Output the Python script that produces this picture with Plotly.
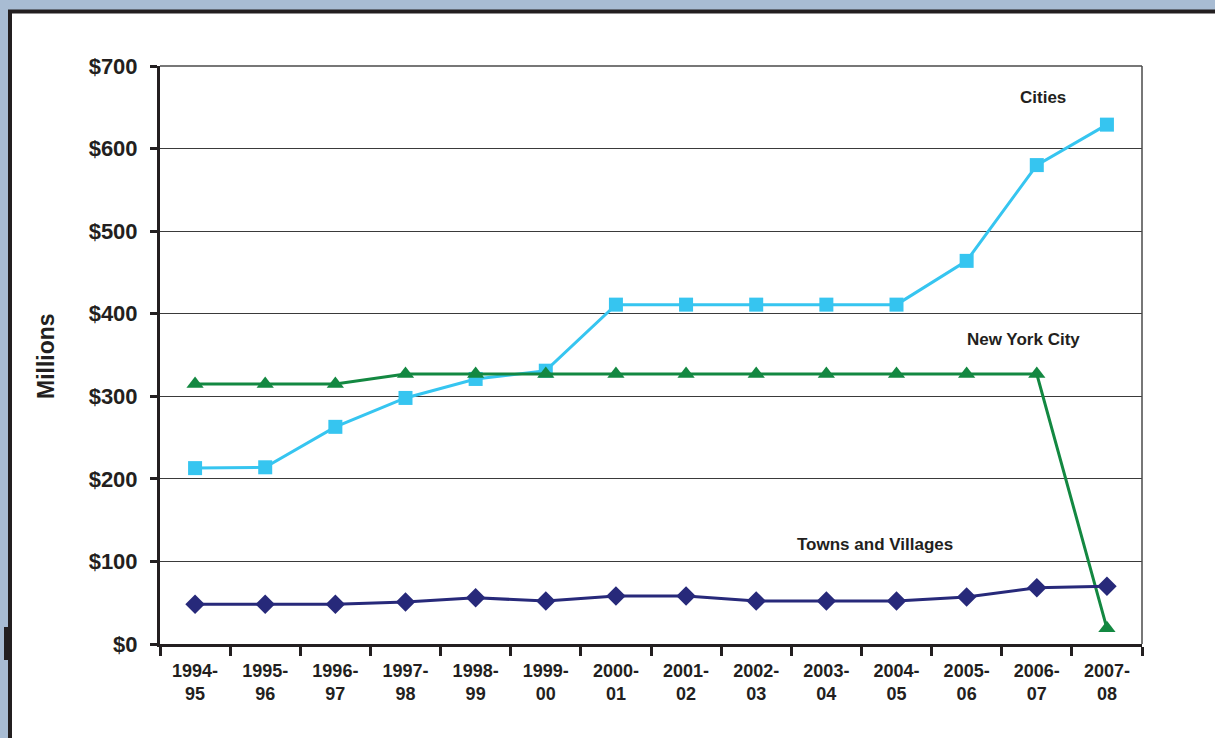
import plotly.graph_objects as go

years = ["1994-<br>95", "1995-<br>96", "1996-<br>97", "1997-<br>98", "1998-<br>99",
         "1999-<br>00", "2000-<br>01", "2001-<br>02", "2002-<br>03", "2003-<br>04",
         "2004-<br>05", "2005-<br>06", "2006-<br>07", "2007-<br>08"]
cities = [213, 214, 263, 298, 321, 331, 411, 411, 411, 411, 411, 464, 580, 629]
nyc = [315, 315, 315, 327, 327, 327, 327, 327, 327, 327, 327, 327, 327, 19]
towns = [48, 48, 48, 51, 56, 52, 58, 58, 52, 52, 52, 57, 68, 70]
y_ticks = [0, 100, 200, 300, 400, 500, 600, 700]

W, H = 1215, 738
L, R, T, B = 160, 73, 66, 94
PW, PH = W - L - R, H - T - B


def px(x):
    return (x - L) / PW


def py(y):
    return (H - B - y) / PH


FONT = "Liberation Sans, Arial, sans-serif"
TXT = "#231f20"

fig = go.Figure()
fig.add_trace(go.Scatter(x=years, y=cities, mode="lines+markers", name="Cities",
                         line=dict(color="#36c5f0", width=3),
                         marker=dict(symbol="square", size=14, color="#36c5f0")))
fig.add_trace(go.Scatter(x=years, y=nyc, mode="lines+markers", name="New York City",
                         line=dict(color="#138841", width=3),
                         marker=dict(symbol="triangle-up", size=15, color="#138841")))
fig.add_trace(go.Scatter(x=years, y=towns, mode="lines+markers", name="Towns and Villages",
                         line=dict(color="#27297a", width=3),
                         marker=dict(symbol="diamond", size=15, color="#27297a")))

shapes = [
    # outer frame
    dict(type="rect", xref="paper", yref="paper", x0=px(10), x1=px(1250), y0=py(11.5), y1=py(800),
         line=dict(color="#231f20", width=4), fillcolor="white", layer="below"),
    dict(type="rect", xref="paper", yref="paper", x0=px(4), x1=px(9), y0=py(627), y1=py(660),
         line=dict(width=0), fillcolor="#231f20", layer="below"),
    # top and right plot border
    dict(type="line", xref="paper", yref="paper", x0=0, x1=1, y0=1, y1=1,
         line=dict(color="#4a4a4a", width=1.5)),
    dict(type="line", xref="paper", yref="paper", x0=1, x1=1, y0=0, y1=1,
         line=dict(color="#4a4a4a", width=1.5)),
]


def label(text, x, y, size, angle=0):
    return dict(text=f"<b>{text}</b>", x=px(x), y=py(y), xref="paper", yref="paper",
                xanchor="center", yanchor="middle", showarrow=False, textangle=angle,
                font=dict(size=size, color=TXT, family=FONT))


annotations = [
    label("Cities", 1043, 97, 17),
    label("New York City", 1023, 339, 17),
    label("Towns and Villages", 875, 544, 17),
    label("Millions", 46, 356, 23, -90),
]

fig.update_layout(
    width=W, height=H,
    margin=dict(l=L, r=R, t=T, b=B),
    paper_bgcolor="#a8bcd3",
    plot_bgcolor="white",
    showlegend=False,
    shapes=shapes,
    annotations=annotations,
    font=dict(family=FONT, color=TXT),
)
fig.update_xaxes(
    type="category", tickson="boundaries", ticks="outside", ticklen=9, tickwidth=3,
    tickcolor="#231f20", showline=True, linecolor="#231f20", linewidth=3,
    showgrid=False, tickfont=dict(size=18, color=TXT, family=FONT),
    tickprefix="<b>", ticksuffix="</b>", range=[-0.5, 13.5], ticklabelstandoff=8,
)
fig.update_yaxes(
    range=[0, 700], tickvals=y_ticks, ticktext=[f"<b>${v}</b>" for v in y_ticks],
    ticks="outside", ticklen=7, tickwidth=3, tickcolor="#231f20",
    showline=True, linecolor="#231f20", linewidth=3,
    showgrid=True, gridcolor="#3a3a3a", gridwidth=1, zeroline=False,
    tickfont=dict(size=22, color=TXT, family=FONT), ticklabelstandoff=8,
)
fig.write_html("out.html")
